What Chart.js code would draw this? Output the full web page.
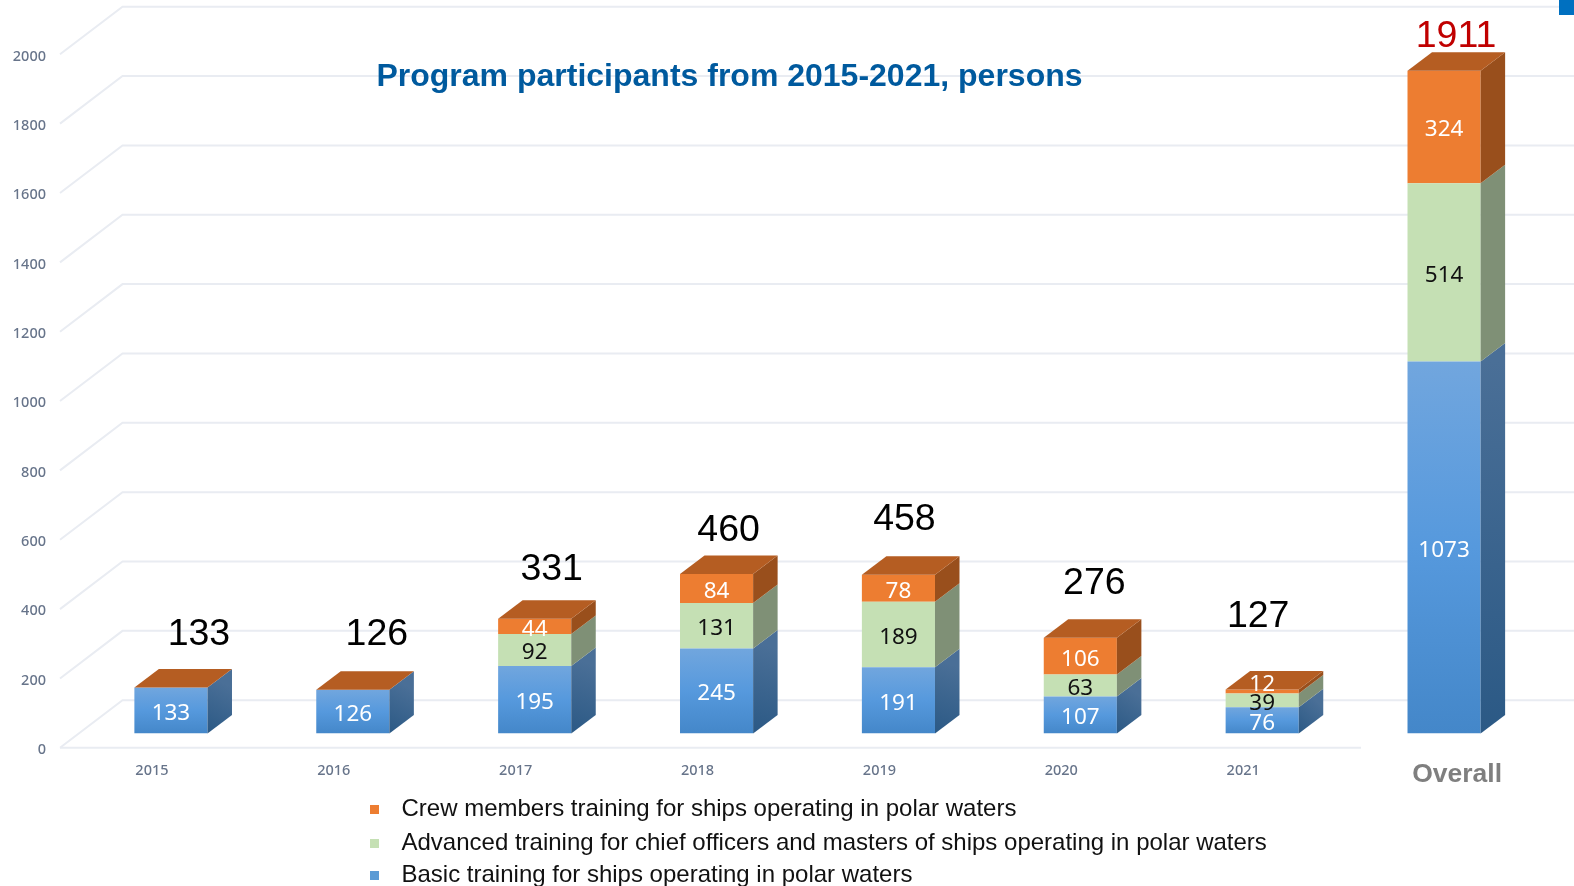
<!DOCTYPE html>
<html>
<head>
<meta charset="utf-8">
<title>Program participants</title>
<script src="https://cdn.jsdelivr.net/npm/chart.js@4"></script>
<style>
  html, body { margin: 0; background: #fff; overflow: hidden; }
  canvas { display: block; }
  #corner { position: absolute; top: 0; right: 0; width: 15px; height: 15px; background: #0070c0; }
</style>
</head>
<body>
<canvas id="graph" width="1574" height="886"></canvas>
<div id="corner"></div>
<script>
const years = ['2015', '2016', '2017', '2018', '2019', '2020', '2021', 'Overall']
const basicTraining = [133, 126, 195, 245, 191, 107, 76, 1073]
const advancedTraining = [0, 0, 92, 131, 189, 63, 39, 514]
const crewTraining = [0, 0, 44, 84, 78, 106, 12, 324]
const totals = [133, 126, 331, 460, 458, 276, 127, 1911]

// where each total sits relative to the top of its bar
const totalShiftX = [28, 24, 17, 12, 6, 14, -4, 12]
const totalShiftY = [-54, -56, -50, -44, -56, -55, -74, -35]

const ARIAL = '"Liberation Sans", Arial, sans-serif'
const LABEL_FONT = '"Noto Sans", sans-serif'
const TICK_FONT = '500 14.5px ' + LABEL_FONT
const TICK_COLOR = '#67748a'
const GRID_COLOR = '#e9ecf2'

// bar depth in pixels
const DEPTH_X = 24.5
const DEPTH_Y = 18.5

const blueFront = (c) => {
  const { y } = c.chart.scales
  if (!y || c.raw === undefined) return '#4f94d6'
  const g = c.chart.ctx.createLinearGradient(0, y.getPixelForValue(c.raw), 0, y.getPixelForValue(0))
  g.addColorStop(0, '#71a6de')
  g.addColorStop(0.5, '#5699dd')
  g.addColorStop(1, '#4487c9')
  return g
}

const series = [
  { label: 'Basic training for ships operating in polar waters', data: basicTraining, color: blueFront, swatch: '#5b9bd5', side: ['#4a6f97', '#2b5985'], text: '#fff' },
  { label: 'Advanced training for chief officers and masters of ships operating in polar waters', data: advancedTraining, color: '#c5e0b4', swatch: '#c5e0b4', side: ['#7f9076', '#7f9076'], text: '#111' },
  { label: 'Crew members training for ships operating in polar waters', data: crewTraining, color: '#ed7d31', swatch: '#ed7d31', side: ['#994f1c', '#994f1c'], text: '#fff' }
]

// floor, side wall and back wall lines for each tick
const wallGrid = {
  id: 'wallGrid',
  beforeDatasetsDraw(chart) {
    const { ctx, width, scales: { y } } = chart
    ctx.save()
    ctx.strokeStyle = GRID_COLOR
    ctx.lineWidth = 2
    y.ticks.forEach((tick) => {
      const py = y.getPixelForValue(tick.value)
      ctx.beginPath()
      ctx.moveTo(60, py + 14.3)
      ctx.lineTo(122.5, py - 33.3)
      ctx.lineTo(width, py - 33.3)
      ctx.stroke()
      ctx.fillStyle = TICK_COLOR
      ctx.font = TICK_FONT
      ctx.textAlign = 'right'
      ctx.textBaseline = 'middle'
      ctx.fillText(tick.value, 46, py + 16.5)
    })
    const zero = y.getPixelForValue(0) + 14.3
    ctx.beginPath()
    ctx.moveTo(60, zero)
    ctx.lineTo(1361, zero)
    ctx.stroke()
    ctx.restore()
  }
}

// side and top faces, then the value labels
const boxFaces = {
  id: 'boxFaces',
  afterDatasetsDraw(chart) {
    const { ctx, data, scales: { x, y } } = chart
    ctx.save()
    data.datasets.forEach((ds, i) => {
      const meta = chart.getDatasetMeta(i)
      meta.data.forEach((bar) => {
        const right = bar.x + bar.width / 2
        const g = ctx.createLinearGradient(right, bar.base, right + DEPTH_X, bar.y)
        g.addColorStop(0, series[i].side[1])
        g.addColorStop(1, series[i].side[0])
        ctx.fillStyle = g
        ctx.beginPath()
        ctx.moveTo(right, bar.y)
        ctx.lineTo(right + DEPTH_X, bar.y - DEPTH_Y)
        ctx.lineTo(right + DEPTH_X, bar.base - DEPTH_Y)
        ctx.lineTo(right, bar.base)
        ctx.closePath()
        ctx.fill()
      })
    })
    // the top series carries the lid, even where its value is 0
    chart.getDatasetMeta(data.datasets.length - 1).data.forEach((bar) => {
      const left = bar.x - bar.width / 2
      const right = bar.x + bar.width / 2
      ctx.fillStyle = '#b55d22'
      ctx.beginPath()
      ctx.moveTo(left, bar.y)
      ctx.lineTo(left + DEPTH_X, bar.y - DEPTH_Y)
      ctx.lineTo(right + DEPTH_X, bar.y - DEPTH_Y)
      ctx.lineTo(right, bar.y)
      ctx.closePath()
      ctx.fill()
    })

    ctx.textAlign = 'center'
    ctx.textBaseline = 'middle'
    ctx.font = '22.5px ' + LABEL_FONT
    data.datasets.forEach((ds, i) => {
      chart.getDatasetMeta(i).data.forEach((bar, k) => {
        if (!ds.data[k]) return
        const h = bar.base - bar.y
        // thin segments push their label up onto the lid
        const lift = h < 10 ? -10 : 0
        ctx.fillStyle = series[i].text
        ctx.fillText(ds.data[k], bar.x, (bar.y + bar.base) / 2 + 3 + lift)
      })
    })

    ctx.font = '37.5px ' + ARIAL
    totals.forEach((total, k) => {
      ctx.fillStyle = k === totals.length - 1 ? '#c00000' : '#000'
      ctx.fillText(total, x.getPixelForValue(k) + totalShiftX[k], y.getPixelForValue(total) + totalShiftY[k] + 1)
    })

    // year labels
    years.forEach((year, k) => {
      if (k === years.length - 1) {
        ctx.fillStyle = '#7f7f7f'
        ctx.font = 'bold 26.5px ' + ARIAL
        ctx.fillText(year, x.getPixelForValue(k) + 13, 775)
      } else {
        ctx.fillStyle = TICK_COLOR
        ctx.font = TICK_FONT
        ctx.fillText(year, x.getPixelForValue(k) - 19, 771)
      }
    })

    ctx.fillStyle = '#005a9e'
    ctx.font = 'bold 32px ' + ARIAL
    ctx.fillText('Program participants from 2015-2021, persons', 729.5, 77.5)

    // legend runs top series first
    ctx.textAlign = 'left'
    ctx.font = '24px ' + ARIAL
    const rows = [809, 843, 875]
    series.slice().reverse().forEach((s, r) => {
      ctx.fillStyle = s.swatch
      ctx.fillRect(370, rows[r] - 4, 9, 9)
      ctx.fillStyle = '#111'
      ctx.fillText(s.label, 401.5, rows[r])
    })
    ctx.restore()
  }
}

new Chart(document.getElementById('graph'), {
  type: 'bar',
  plugins: [wallGrid, boxFaces],
  data: {
    labels: years,
    datasets: series.map((s) => ({
      label: s.label,
      data: s.data,
      backgroundColor: s.color,
      borderWidth: 0,
      barPercentage: 0.402,
      categoryPercentage: 1
    }))
  },
  options: {
    responsive: false,
    animation: false,
    layout: { padding: { left: 80, right: 39, top: 40, bottom: 152.5 } },
    plugins: { legend: false, tooltip: false, title: false },
    scales: {
      x: { stacked: true, display: false },
      y: { stacked: true, display: false, min: 0, max: 2000, ticks: { stepSize: 200 } }
    }
  }
})
</script>
</body>
</html>
